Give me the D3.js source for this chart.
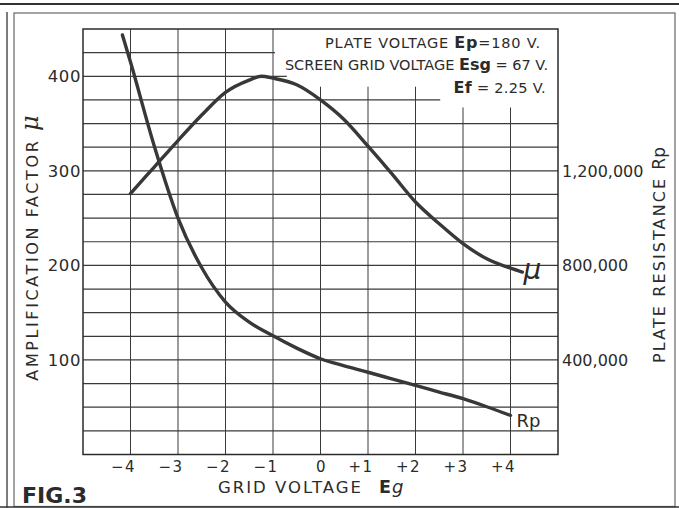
<!DOCTYPE html>
<html>
<head>
<meta charset="utf-8">
<script src="https://cdn.jsdelivr.net/npm/d3@7"></script>
<style>
  body { margin: 0; background: #fff; }
  svg { display: block; }
  text { font-family: "DejaVu Sans", sans-serif; fill: #2b2b2b; }
</style>
</head>
<body>
<svg id="chart" width="679" height="508"></svg>
<script>
// Grid voltage axis
const gridVoltageTicks = [-4, -3, -2, -1, 0, 1, 2, 3, 4];
const gridVoltageLabels = ["−4", "−3", "−2", "−1", "0", "+1", "+2", "+3", "+4"];

// Left axis: amplification factor
const muTicks = [100, 200, 300, 400];
// Right axis: plate resistance (ohms)
const rpTicks = [400000, 800000, 1200000];

// Amplification factor μ vs grid voltage Eg
const muVolts  = [-4.0, -3.5, -3.0, -2.5, -2.0, -1.5, -1.25, -1.0, -0.5, 0.0, 0.5, 1.0, 1.5, 2.0, 2.5, 3.0, 3.5, 4.0, 4.25];
const muValues = [276, 304, 332, 359, 383, 396, 400, 398, 391, 375, 354, 326, 297, 267, 244, 223, 207, 197, 193];

// Plate resistance Rp vs grid voltage Eg
const rpVolts  = [-4.17, -4.0, -3.5, -3.0, -2.5, -2.0, -1.5, -1.0, -0.5, 0.0, 0.5, 1.0, 1.5, 2.0, 2.5, 3.0, 3.5, 4.0];
const rpValues = [1775000, 1660000, 1305000, 1000000, 790000, 645000, 560000, 502000, 450000, 405000, 375000, 348000, 320000, 292000, 264000, 236000, 202000, 165000];

// Operating conditions
const conditions = [
  [["PLATE VOLTAGE ", false], ["Ep", true], ["=180 V.", false]],
  [["SCREEN GRID VOLTAGE ", false], ["Esg", true], [" = 67 V.", false]],
  [["Ef", true], [" = 2.25 V.", false]]
];

const svg = d3.select("#chart");
const ink = "#2b2b2b";

const x = d3.scaleLinear().domain([-5, 5]).range([83, 558]);
const y = d3.scaleLinear().domain([0, 450]).range([454.5, 29]);
const yR = d3.scaleLinear().domain([0, 1800000]).range([454.5, 29]);

// page frame
const frame = svg.append("g").attr("fill", "none");
frame.append("line").attr("x1", 0).attr("x2", 679).attr("y1", 4).attr("y2", 4)
  .attr("stroke", "#333").attr("stroke-width", 2);
frame.append("rect").attr("x", 14).attr("y", 13).attr("width", 661).attr("height", 493.5)
  .attr("stroke", "#666").attr("stroke-width", 1.2);
frame.append("line").attr("x1", 7).attr("x2", 7).attr("y1", 12).attr("y2", 508)
  .attr("stroke", "#444").attr("stroke-width", 1.4);
frame.append("line").attr("x1", 0).attr("x2", 679).attr("y1", 507).attr("y2", 507)
  .attr("stroke", "#333").attr("stroke-width", 1.6);

// grid: horizontal lines every 25 units of μ, some shortened by the conditions box
const hExtent = { 425: -0.96, 400: -0.71, 375: 2.52 };
const grid = svg.append("g").attr("stroke", "#3a3a3a");
grid.selectAll("line.h").data(d3.range(25, 450, 25)).join("line")
  .attr("class", "h")
  .attr("x1", x(-5))
  .attr("x2", d => x(hExtent[d] !== undefined ? hExtent[d] : 5))
  .attr("y1", d => y(d)).attr("y2", d => y(d))
  .attr("stroke-width", 1.2);

// vertical lines every volt, the right ones stop below the conditions box
const vTop = { 0: 389, 1: 389, 2: 389, 3: 367, 4: 367 };
grid.selectAll("line.v").data(gridVoltageTicks).join("line")
  .attr("class", "v")
  .attr("x1", d => x(d)).attr("x2", d => x(d))
  .attr("y1", y(0))
  .attr("y2", d => y(vTop[d] !== undefined ? vTop[d] : 450))
  .attr("stroke-width", 1);

// plot border
svg.append("rect")
  .attr("x", x(-5)).attr("y", y(450))
  .attr("width", x(5) - x(-5)).attr("height", y(0) - y(450))
  .attr("fill", "none").attr("stroke", ink).attr("stroke-width", 1.5);

// curves
const muLine = d3.line().x((d, i) => x(muVolts[i])).y(d => y(d)).curve(d3.curveMonotoneX);
const rpLine = d3.line().x((d, i) => x(rpVolts[i])).y(d => yR(d)).curve(d3.curveMonotoneX);

svg.append("path").attr("d", muLine(muValues))
  .attr("fill", "none").attr("stroke", "#383838").attr("stroke-width", 3.4).attr("stroke-linecap", "round");
svg.append("path").attr("d", rpLine(rpValues))
  .attr("fill", "none").attr("stroke", "#383838").attr("stroke-width", 3.4).attr("stroke-linecap", "round");

// curve labels
svg.append("text")
  .attr("x", x(muVolts[muVolts.length - 1]) + 1)
  .attr("y", y(muValues[muValues.length - 1]) + 7)
  .attr("font-family", "DejaVu Serif").attr("font-style", "italic")
  .attr("font-size", 28).text("μ");
svg.append("text")
  .attr("x", x(rpVolts[rpVolts.length - 1]) + 6)
  .attr("y", yR(rpValues[rpValues.length - 1]) + 12)
  .attr("font-size", 18).text("Rp");

// left axis ticks
svg.append("g").selectAll("text").data(muTicks).join("text")
  .attr("x", x(-5) - 2).attr("y", d => y(d)).attr("dy", "0.36em")
  .attr("text-anchor", "end").attr("font-size", 16.5).attr("letter-spacing", 0.6)
  .text(d => d);

// right axis ticks
svg.append("g").selectAll("text").data(rpTicks).join("text")
  .attr("x", x(5) + 4).attr("y", d => yR(d)).attr("dy", "0.36em")
  .attr("text-anchor", "start").attr("font-size", 16)
  .text(d => d3.format(",")(d));

// bottom axis ticks
svg.append("g").selectAll("text").data(gridVoltageTicks).join("text")
  .attr("x", d => d === 0 ? x(d) + 1 : x(d) + 5.5)
  .attr("y", 472)
  .attr("text-anchor", d => d === 0 ? "middle" : "end")
  .attr("font-size", 15).attr("letter-spacing", 1.5)
  .text((d, i) => gridVoltageLabels[i]);

// axis titles
const xTitle = svg.append("text").attr("x", 218).attr("y", 493).attr("font-size", 16.5);
xTitle.append("tspan").attr("letter-spacing", 2).text("GRID VOLTAGE");
xTitle.append("tspan").attr("dx", 16).attr("font-weight", "bold").attr("font-size", 17.5).text("E");
xTitle.append("tspan").attr("dx", 1).attr("font-size", 18).attr("font-style", "italic").text("g");

const yTitle = svg.append("text")
  .attr("transform", "translate(38,248) rotate(-90)")
  .attr("text-anchor", "middle").attr("font-size", 16).attr("letter-spacing", 2.6);
yTitle.append("tspan").text("AMPLIFICATION FACTOR ");
yTitle.append("tspan").attr("font-family", "DejaVu Serif").attr("font-style", "italic")
  .attr("font-size", 24).attr("letter-spacing", 0).text("μ");

const yRTitle = svg.append("text")
  .attr("transform", "translate(665,255) rotate(-90)")
  .attr("text-anchor", "middle").attr("font-size", 16).attr("letter-spacing", 2.1);
yRTitle.append("tspan").text("PLATE RESISTANCE ");
yRTitle.append("tspan").attr("font-size", 17).attr("letter-spacing", 0).text("Rp");

// operating conditions, right-aligned in the upper corner
const condY = [48, 70, 93];
const condRight = [541, 548, 546];
const condSpacing = [0.8, 0, 0.3];
conditions.forEach((row, i) => {
  const t = svg.append("text").attr("x", condRight[i]).attr("y", condY[i])
    .attr("text-anchor", "end").attr("font-size", 14.5).attr("letter-spacing", condSpacing[i]);
  row.forEach(([s, bold]) => {
    t.append("tspan").attr("font-weight", bold ? "bold" : "normal")
      .attr("font-size", bold ? 16 : 14.5).text(s);
  });
});

// figure number
svg.append("text").attr("x", 22).attr("y", 503)
  .attr("font-size", 22).attr("font-weight", "bold").text("FIG.3");
</script>
</body>
</html>
